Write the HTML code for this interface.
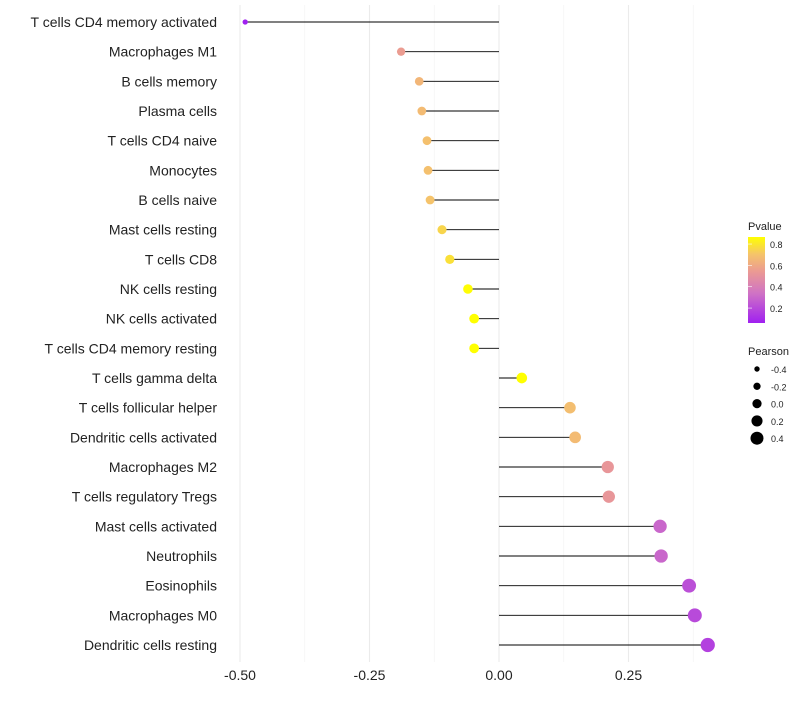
<!DOCTYPE html>
<html><head><meta charset="utf-8"><style>
body{margin:0;background:#fff;font-family:"Liberation Sans",sans-serif}
</style></head><body>
<svg id="chart" width="800" height="700" xmlns="http://www.w3.org/2000/svg">
<defs><linearGradient id="pg" x1="0" y1="1" x2="0" y2="0">
<stop offset="0" stop-color="#a020f0"/><stop offset="0.35" stop-color="#d074c4"/><stop offset="0.6" stop-color="#eb9a93"/><stop offset="0.8" stop-color="#f5c46a"/><stop offset="1" stop-color="#ffff00"/></linearGradient></defs>
<g id="grid"></g>
<g id="marks"></g>
<g id="ylabels"></g>
<g id="xlabels"></g>
<g font-size="11" fill="#222">
<text x="748" y="230">Pvalue</text>
<rect x="748" y="237" width="17" height="86" fill="url(#pg)"/>
<g id="pticks"></g>
</g>
<g id="slegend" font-size="11" fill="#222">
<text x="748" y="355">Pearson</text>
</g>
</svg>
<script>
const categories=["T cells CD4 memory activated","Macrophages M1","B cells memory","Plasma cells","T cells CD4 naive","Monocytes","B cells naive","Mast cells resting","T cells CD8","NK cells resting","NK cells activated","T cells CD4 memory resting","T cells gamma delta","T cells follicular helper","Dendritic cells activated","Macrophages M2","T cells regulatory  Tregs ","Mast cells activated","Neutrophils","Eosinophils","Macrophages M0","Dendritic cells resting"];
const pearson=[-0.49,-0.189,-0.154,-0.149,-0.139,-0.137,-0.133,-0.110,-0.095,-0.060,-0.048,-0.048,0.044,0.137,0.147,0.210,0.212,0.311,0.313,0.367,0.378,0.403];
const pvalue=[0.03,0.55,0.65,0.67,0.69,0.69,0.70,0.75,0.78,0.86,0.87,0.87,0.87,0.68,0.67,0.52,0.52,0.30,0.30,0.22,0.20,0.17];
const xTicks=[-0.5,-0.25,0,0.25];
const xTickLabels=["-0.50","-0.25","0.00","0.25"];
const pTicks=[0.2,0.4,0.6,0.8];
const sizeTicks=[-0.4,-0.2,0.0,0.2,0.4];
const NS="http://www.w3.org/2000/svg";
const x=v=>499+v*518;
const y=i=>22+i*(623/21);
const r=v=>Math.max(1.8,5.1+5*v);
const rl=v=>4.6+4.75*v;
const pY=p=>323-(p-0.06)/(0.866-0.06)*86;
const stops=[[0,[160,32,240]],[0.35,[208,116,196]],[0.6,[235,154,147]],[0.8,[245,196,106]],[1,[255,255,0]]];
function col(p){let t=Math.min(1,Math.max(0,(p-0.06)/(0.806)));for(let k=1;k<stops.length;k++){if(t<=stops[k][0]){const a=stops[k-1],b=stops[k],f=(t-a[0])/(b[0]-a[0]);return "rgb("+a[1].map((c,j)=>Math.round(c+(b[1][j]-c)*f)).join(",")+")";}}return "rgb(255,255,0)";}
function mk(tag,at,parent){const e=document.createElementNS(NS,tag);for(const k in at)e.setAttribute(k,at[k]);document.getElementById(parent).appendChild(e);return e;}
[-0.375,-0.125,0.125,0.375].forEach(v=>{const l=mk("line",{x1:x(v),x2:x(v),y1:5,y2:662,stroke:"#f2f2f2","stroke-width":0.6},"grid");});
xTicks.forEach((v,i)=>{const l=mk("line",{x1:x(v),x2:x(v),y1:5,y2:662,stroke:"#ebebeb","stroke-width":1.1},"grid");
const t=mk("text",{x:x(v),y:680,"text-anchor":"middle","font-size":14,fill:"#222"},"xlabels");t.textContent=xTickLabels[i];});
categories.forEach((c,i)=>{const t=mk("text",{x:217,y:y(i)+5,"text-anchor":"end","font-size":14,fill:"#222"},"ylabels");t.textContent=c;
const l=mk("line",{x1:x(0),x2:x(pearson[i]),y1:y(i),y2:y(i),stroke:"#000","stroke-width":0.9},"marks");
const d=mk("circle",{cx:x(pearson[i]),cy:y(i),r:r(pearson[i]),fill:col(pvalue[i])},"marks");});
pTicks.forEach(p=>{const t=mk("text",{x:770,y:pY(p)+4,"font-size":9,fill:"#222"},"pticks");t.textContent=p.toFixed(1);
const l=mk("line",{x1:748,x2:752,y1:pY(p),y2:pY(p),stroke:"#fff","stroke-width":0.6},"pticks");});
sizeTicks.forEach((s,i)=>{const yy=369+i*17.3;const c=mk("circle",{cx:757,cy:yy,r:rl(s),fill:"#000"},"slegend");
const t=mk("text",{x:771,y:yy+4,"font-size":9,fill:"#222"},"slegend");t.textContent=s.toFixed(1);});
</script>
</body></html>
